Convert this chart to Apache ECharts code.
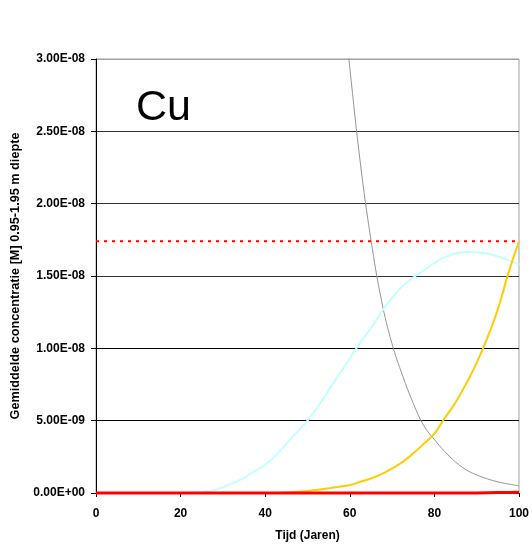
<!DOCTYPE html>
<html>
<head>
<meta charset="utf-8">
<script src="https://cdn.jsdelivr.net/npm/echarts@6/dist/echarts.min.js"></script>
<style>
  html, body { margin: 0; padding: 0; background: #fff; }
  #chart { width: 532px; height: 549px; }
</style>
</head>
<body>
<div id="chart"></div>
<script>
// Time in years
const years = [0, 2.5, 5, 7.5, 10, 12.5, 15, 17.5, 20, 22.5, 25, 27.5, 30, 32.5, 35, 37.5, 40, 42.5,
  45, 47.5, 50, 52.5, 55, 57.5, 60, 62.5, 65, 67.5, 70, 72.5, 75, 77.5, 80, 82.5, 85, 87.5, 90, 92.5, 95, 97.5, 100];

// Mean concentrations, in units of 1E-08 M
const greySeries = [null, null, null, null, null, null, null, null, null, null, null, null, null, null, null, null, null, null,
  null, null, null, null, null, 3.65, 2.94, 2.28, 1.75, 1.33, 1.03, 0.81, 0.62, 0.465, 0.37, 0.285, 0.215, 0.16, 0.125, 0.098, 0.077, 0.062, 0.05];
const cyanSeries = [0, 0, 0, 0, 0, 0, 0, 0, 0, 0, 0.004, 0.015, 0.04, 0.07, 0.105, 0.15, 0.195, 0.26,
  0.34, 0.42, 0.5, 0.6, 0.71, 0.82, 0.93, 1.04, 1.14, 1.25, 1.35, 1.43, 1.49, 1.54, 1.59, 1.63, 1.655, 1.668, 1.665, 1.655, 1.635, 1.61, 1.578];
const yellowSeries = [0, 0, 0, 0, 0, 0, 0, 0, 0, 0, 0, 0, 0, 0, 0, 0, 0, 0,
  0.004, 0.008, 0.014, 0.022, 0.032, 0.043, 0.055, 0.078, 0.1, 0.13, 0.17, 0.215, 0.274, 0.34, 0.41, 0.52, 0.626, 0.755, 0.9, 1.07, 1.27, 1.52, 1.74];
const redSeries = [0, 0, 0, 0, 0, 0, 0, 0, 0, 0, 0, 0, 0, 0, 0, 0, 0, 0,
  0, 0, 0, 0, 0, 0, 0, 0, 0, 0, 0, 0, 0, 0, 0, 0, 0, 0, 0, 0.002, 0.003, 0.004, 0.005];
const limitValue = 1.74;
const unit = 1e-8;

// Axis ticks
const xTicks = [0, 20, 40, 60, 80, 100];
const yTickLabels = ['0.00E+00', '5.00E-09', '1.00E-08', '1.50E-08', '2.00E-08', '2.50E-08', '3.00E-08'];
const yStep = 5e-9;

const toPairs = arr => years.map((t, i) => [t, arr[i] == null ? null : arr[i] * unit]);

const font = 'Liberation Sans, Arial, sans-serif';
const chart = echarts.init(document.getElementById('chart'), null, { renderer: 'canvas' });

chart.setOption({
  animation: false,
  backgroundColor: '#ffffff',
  grid: {
    left: 96, right: 13, top: 59, bottom: 56,
    show: true, borderColor: '#a0a0a0', borderWidth: 1, backgroundColor: 'transparent'
  },
  graphic: [{
    type: 'text', left: 136, top: 87,
    style: { text: 'Cu', fontFamily: font, fontSize: 43, fill: '#000' }
  }],
  xAxis: {
    type: 'value', min: xTicks[0], max: xTicks[xTicks.length - 1], interval: 20,
    name: 'Tijd (Jaren)', nameLocation: 'middle', nameGap: 37,
    nameTextStyle: { fontFamily: font, fontSize: 12, fontWeight: 'bold', color: '#000' },
    axisLine: { show: true, lineStyle: { color: '#000', width: 1 } },
    axisTick: { show: true, inside: false, length: 4, lineStyle: { color: '#000' } },
    axisLabel: { margin: 15, fontFamily: font, fontSize: 12, fontWeight: 'bold', color: '#000' },
    splitLine: { show: false }
  },
  yAxis: {
    type: 'value', min: 0, max: 3e-8, interval: yStep,
    name: 'Gemiddelde concentratie [M] 0.95-1.95 m diepte', nameLocation: 'middle', nameGap: 72,
    nameTextStyle: { fontFamily: font, fontSize: 12.7, fontWeight: 'bold', color: '#000' },
    axisLine: { show: true, lineStyle: { color: '#000', width: 1 } },
    axisTick: { show: true, inside: false, length: 5, lineStyle: { color: '#000' } },
    axisLabel: {
      margin: 11, fontFamily: font, fontSize: 12, fontWeight: 'bold', color: '#000',
      formatter: v => yTickLabels[Math.round(v / yStep)]
    },
    splitLine: {
      show: true,
      lineStyle: { color: ['#000', '#000', '#000', '#333', '#333', '#333', '#a0a0a0'], width: 1 }
    }
  },
  series: [
    {
      type: 'line', data: toPairs(greySeries), showSymbol: false, smooth: 0.4,
      lineStyle: { color: '#959595', width: 1 }, connectNulls: false, clip: true, z: 2
    },
    {
      type: 'line', data: toPairs(cyanSeries), showSymbol: false, smooth: 0.4,
      lineStyle: { color: '#c4ffff', width: 2 }, clip: true, z: 3
    },
    {
      type: 'line', data: toPairs(yellowSeries), showSymbol: false, smooth: 0.4,
      lineStyle: { color: '#ffcc00', width: 2 }, clip: true, z: 4
    },
    {
      type: 'line', data: [[xTicks[0], limitValue * unit], [xTicks[xTicks.length - 1], limitValue * unit]],
      showSymbol: false,
      lineStyle: { color: '#ff0000', width: 2, type: [3, 5] }, clip: true, z: 5
    },
    {
      type: 'line', data: toPairs(redSeries), showSymbol: false,
      lineStyle: { color: '#ff0000', width: 3 }, clip: false, z: 6
    }
  ]
});
</script>
</body>
</html>
